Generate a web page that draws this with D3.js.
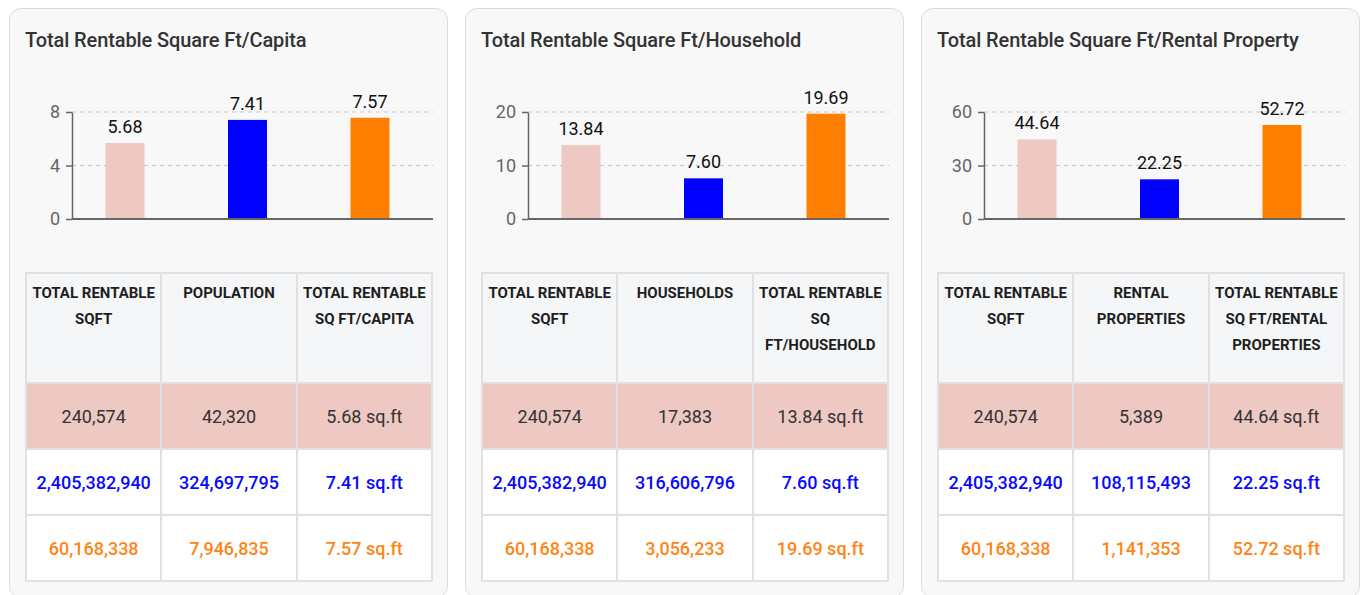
<!DOCTYPE html>
<html>
<head>
<meta charset="utf-8">
<script src="https://cdn.jsdelivr.net/npm/d3@7"></script>
<style>
  html, body { margin: 0; padding: 0; background: #ffffff; }
  body { width: 1364px; height: 595px; overflow: hidden; position: relative; font-family: Roboto, "Noto Sans", Arial, sans-serif; }
  .panel { position: absolute; top: 8px; width: 439px; height: 590px; border: 1.5px solid #dcdcdc; border-radius: 12px; background: #f8f8f8; box-sizing: border-box; }
  .panel .title { position: absolute; left: 15px; top: 19px; font-size: 20px; font-weight: 500; color: #333; white-space: nowrap; letter-spacing: -0.1px; }
  .panel svg { position: absolute; left: 0; top: 0; }
  table { position: absolute; left: 15px; top: 263px; width: 408px; border-collapse: collapse; table-layout: fixed; }
  td, th { border: 2px solid #e0e0e0; text-align: center; }
  th { background: #f5f6f8; vertical-align: top; height: 96px; padding: 6px 1px 6px 1px; font-size: 15px; font-weight: 700; line-height: 26px; color: #1e1e1e; }
  th .ln { display: block; white-space: nowrap; }
  td { height: 64px; padding: 0; font-size: 18px; vertical-align: middle; }
  tr.r0 td { background: #eec8c3; color: #333; font-weight: 400; }
  tr.r1 td { background: #ffffff; color: #0a0aff; font-weight: 500; }
  tr.r2 td { background: #ffffff; color: #ff8515; font-weight: 500; }
</style>
</head>
<body>
<script>
// ---- data ----
const panelTitles = ["Total Rentable Square Ft/Capita", "Total Rentable Square Ft/Household", "Total Rentable Square Ft/Rental Property"];
const barCategories = ["Local", "National", "State"];
const perCapita = [5.68, 7.41, 7.57];
const perHousehold = [13.84, 7.60, 19.69];
const perRentalProperty = [44.64, 22.25, 52.72];
const yTicksCapita = [0, 4, 8];
const yTicksHousehold = [0, 10, 20];
const yTicksRental = [0, 30, 60];

const totalRentableSqft = [240574, 2405382940, 60168338];
const population = [42320, 324697795, 7946835];
const households = [17383, 316606796, 3056233];
const rentalProperties = [5389, 108115493, 1141353];

const headersCapita = [["TOTAL RENTABLE", "SQFT"], ["POPULATION"], ["TOTAL RENTABLE", "SQ FT/CAPITA"]];
const headersHousehold = [["TOTAL RENTABLE", "SQFT"], ["HOUSEHOLDS"], ["TOTAL RENTABLE", "SQ", "FT/HOUSEHOLD"]];
const headersRental = [["TOTAL RENTABLE", "SQFT"], ["RENTAL", "PROPERTIES"], ["TOTAL RENTABLE", "SQ FT/RENTAL", "PROPERTIES"]];

const barColors = ["#eec8c3", "#0000ff", "#ff8000"];

const panels = [
  { title: panelTitles[0], values: perCapita, ticks: yTicksCapita, headers: headersCapita, denom: population },
  { title: panelTitles[1], values: perHousehold, ticks: yTicksHousehold, headers: headersHousehold, denom: households },
  { title: panelTitles[2], values: perRentalProperty, ticks: yTicksRental, headers: headersRental, denom: rentalProperties }
];

const fmtInt = d3.format(",");
const fmtVal = d3.format(".2f");

const body = d3.select("body");

panels.forEach((p, i) => {
  const panel = body.append("div").attr("class", "panel").style("left", (9 + i * 456) + "px");

  const svg = panel.append("svg").attr("width", 437).attr("height", 250);

  panel.append("div").attr("class", "title").text(p.title);

  const axisX = 62, axisRight = 423, yTop = 103, yBottom = 210;

  const x = d3.scaleBand()
    .domain(barCategories)
    .range([53.75, 421.25])
    .paddingInner(0.6816)
    .paddingOuter(0.3408);

  const y = d3.scaleLinear()
    .domain([0, d3.max(p.ticks)])
    .range([yBottom, yTop]);

  // grid lines
  svg.append("g")
    .selectAll("line")
    .data(p.ticks.filter(t => t !== 0))
    .join("line")
    .attr("x1", axisX).attr("x2", axisRight)
    .attr("y1", d => y(d)).attr("y2", d => y(d))
    .attr("stroke", "#c8c8c8")
    .attr("stroke-width", 1)
    .attr("stroke-dasharray", "4,4");

  // bars
  svg.append("g")
    .selectAll("rect")
    .data(p.values)
    .join("rect")
    .attr("x", (d, k) => x(barCategories[k]))
    .attr("width", x.bandwidth())
    .attr("y", d => y(d))
    .attr("height", d => y(0) - y(d))
    .attr("fill", (d, k) => barColors[k]);

  // value labels
  svg.append("g")
    .selectAll("text")
    .data(p.values)
    .join("text")
    .attr("x", (d, k) => x(barCategories[k]) + x.bandwidth() / 2)
    .attr("y", d => y(d) - 10)
    .attr("text-anchor", "middle")
    .attr("font-size", 18)
    .attr("fill", "#111")
    .text(d => fmtVal(d));

  // y axis
  const yAxis = svg.append("g")
    .attr("transform", `translate(${axisX},0)`)
    .call(d3.axisLeft(y).tickValues(p.ticks).tickSize(6).tickSizeOuter(0).tickPadding(6).tickFormat(d3.format("d")));
  yAxis.select(".domain").attr("stroke", "#666").attr("stroke-width", 1.5);
  yAxis.selectAll(".tick line").attr("stroke", "#666").attr("stroke-width", 1.5);
  yAxis.selectAll(".tick text").attr("fill", "#666").attr("font-size", 18).attr("font-family", "Roboto, sans-serif");

  // x axis baseline
  svg.append("line")
    .attr("x1", axisX).attr("x2", axisRight)
    .attr("y1", y(0)).attr("y2", y(0))
    .attr("stroke", "#666").attr("stroke-width", 2);

  // table
  const table = panel.append("table");
  const thead = table.append("tr");
  thead.selectAll("th")
    .data(p.headers)
    .join("th")
    .selectAll("span")
    .data(d => d)
    .join("span")
    .attr("class", "ln")
    .text(d => d);

  const rows = [0, 1, 2].map(r => [
    fmtInt(totalRentableSqft[r]),
    fmtInt(p.denom[r]),
    fmtVal(p.values[r]) + " sq.ft"
  ]);

  table.selectAll("tr.row")
    .data(rows)
    .join("tr")
    .attr("class", (d, r) => "row r" + r)
    .selectAll("td")
    .data(d => d)
    .join("td")
    .text(d => d);
});
</script>
</body>
</html>
